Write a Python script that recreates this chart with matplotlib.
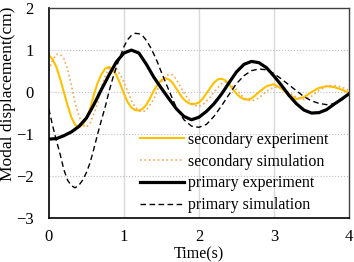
import matplotlib
matplotlib.use('Agg')
import matplotlib.pyplot as plt

plt.rcParams['font.family'] = ['Liberation Serif', 'DejaVu Serif']

# secondary experiment (orange solid)
t_sec_exp = [0.0, 0.05, 0.1, 0.15, 0.2, 0.25, 0.3, 0.35, 0.4, 0.45, 0.5, 0.55, 0.6, 0.65, 0.7,
             0.75, 0.8, 0.85, 0.9, 0.95, 1.0, 1.05, 1.1, 1.15, 1.2, 1.25, 1.3, 1.35, 1.4, 1.45,
             1.5, 1.55, 1.6, 1.65, 1.7, 1.75, 1.8, 1.85, 1.9, 1.95, 2.0, 2.05, 2.1, 2.15, 2.2,
             2.25, 2.3, 2.35, 2.4, 2.45, 2.5, 2.55, 2.6, 2.65, 2.7, 2.75, 2.8, 2.9, 3.0, 3.1,
             3.2, 3.3, 3.4, 3.5, 3.6, 3.7, 3.8, 3.9, 4.0]
y_sec_exp = [0.88, 0.78, 0.60, 0.32, 0.0, -0.32, -0.60, -0.78, -0.84, -0.78, -0.62, -0.40, -0.06,
             0.22, 0.42, 0.56, 0.60, 0.55, 0.40, 0.20, -0.04, -0.24, -0.37, -0.43, -0.44, -0.40,
             -0.30, -0.14, 0.04, 0.18, 0.29, 0.33, 0.30, 0.22, 0.08, -0.06, -0.18, -0.25, -0.29,
             -0.28, -0.25, -0.16, -0.03, 0.10, 0.22, 0.30, 0.32, 0.28, 0.19, 0.07, -0.04, -0.12,
             -0.17, -0.18, -0.15, -0.08, 0.0, 0.14, 0.19, 0.08, -0.06, -0.17, -0.12, 0.0, 0.10,
             0.14, 0.12, 0.06, -0.02]

# secondary simulation (orange dotted)
t_sec_sim = [0.0, 0.05, 0.1, 0.15, 0.2, 0.25, 0.3, 0.35, 0.4, 0.45, 0.5, 0.55, 0.6, 0.65, 0.7,
             0.75, 0.8, 0.85, 0.9, 0.95, 1.0, 1.05, 1.1, 1.15, 1.2, 1.25, 1.3, 1.35, 1.4, 1.45,
             1.5, 1.55, 1.6, 1.65, 1.7, 1.75, 1.8, 1.85, 1.9, 1.95, 2.0, 2.05, 2.1, 2.15, 2.2,
             2.3, 2.35, 2.4, 2.5, 2.6, 2.7, 2.8, 2.9, 3.0, 3.1, 3.2, 3.3, 3.4, 3.5, 3.6, 3.7,
             3.8, 3.9, 4.0]
y_sec_sim = [0.52, 0.76, 0.90, 0.90, 0.80, 0.54, 0.16, -0.26, -0.56, -0.78, -0.84, -0.74, -0.52,
             -0.26, 0.12, 0.38, 0.55, 0.60, 0.56, 0.42, 0.24, 0.02, -0.20, -0.36, -0.45, -0.47,
             -0.43, -0.30, -0.16, 0.06, 0.24, 0.37, 0.42, 0.41, 0.30, 0.14, -0.02, -0.15, -0.26,
             -0.32, -0.34, -0.30, -0.22, -0.12, 0.0, 0.20, 0.24, 0.22, 0.06, -0.14, -0.22, -0.14,
             0.02, 0.12, 0.10, -0.02, -0.12, -0.18, -0.10, 0.04, 0.14, 0.16, 0.12, 0.04]

# primary experiment (black thick)
t_pri_exp = [0.0, 0.1, 0.2, 0.3, 0.4, 0.5, 0.6, 0.7, 0.8, 0.9, 1.0, 1.1, 1.2, 1.3, 1.4, 1.5,
             1.6, 1.7, 1.8, 1.9, 2.0, 2.1, 2.2, 2.3, 2.4, 2.5, 2.6, 2.7, 2.8, 2.9, 3.0, 3.1,
             3.2, 3.3, 3.4, 3.5, 3.6, 3.7, 3.8, 3.9, 4.0]
y_pri_exp = [-1.12, -1.11, -1.04, -0.95, -0.82, -0.62, -0.30, 0.06, 0.40, 0.72, 0.93, 1.00,
             0.93, 0.66, 0.35, 0.09, -0.16, -0.40, -0.58, -0.66, -0.60, -0.46, -0.28, -0.05,
             0.22, 0.48, 0.66, 0.73, 0.70, 0.58, 0.38, 0.16, -0.08, -0.28, -0.43, -0.50, -0.49,
             -0.42, -0.29, -0.17, -0.04]

# primary simulation (black dashed)
t_pri_sim = [0.0, 0.05, 0.1, 0.15, 0.2, 0.25, 0.3, 0.35, 0.4, 0.45, 0.5, 0.55, 0.6, 0.65, 0.7,
             0.75, 0.8, 0.85, 0.9, 0.95, 1.0, 1.05, 1.1, 1.15, 1.2, 1.25, 1.3, 1.35, 1.4, 1.45,
             1.5, 1.55, 1.6, 1.7, 1.8, 1.9, 2.0, 2.1, 2.2, 2.3, 2.4, 2.5, 2.6, 2.7, 2.8, 2.9,
             3.0, 3.1, 3.2, 3.3, 3.4, 3.5, 3.6, 3.7, 3.8, 3.9, 4.0]
y_pri_sim = [-0.40, -0.80, -1.15, -1.48, -1.85, -2.10, -2.23, -2.28, -2.22, -2.10, -1.92, -1.68,
             -1.35, -1.00, -0.67, -0.36, 0.0, 0.32, 0.60, 0.84, 1.08, 1.25, 1.35, 1.40, 1.39,
             1.34, 1.23, 1.08, 0.90, 0.70, 0.47, 0.25, 0.04, -0.38, -0.66, -0.81, -0.84, -0.77,
             -0.58, -0.33, -0.06, 0.20, 0.39, 0.51, 0.55, 0.53, 0.44, 0.31, 0.17, 0.03, -0.11,
             -0.21, -0.27, -0.30, -0.28, -0.19, -0.04]

x_ticks = [0, 1, 2, 3, 4]
y_ticks = [-3, -2, -1, 0, 1, 2]

fig = plt.figure(figsize=(3.54, 2.62), dpi=100)
ax = fig.add_axes([0.138, 0.168, 0.848, 0.801])

ax.plot(t_sec_exp, y_sec_exp, color='#FFC000', lw=1.5, label='secondary experiment')
ax.plot(t_sec_sim, y_sec_sim, color='#F8A850', lw=1.2, ls=':', label='secondary simulation')
ax.plot(t_pri_exp, y_pri_exp, color='black', lw=2.3, label='primary experiment')
ax.plot(t_pri_sim, y_pri_sim, color='black', lw=1.0, ls=(0, (4, 2.5)), label='primary simulation')

ax.set_xlim(0, 4)
ax.set_ylim(-3, 2)
ax.set_xticks(x_ticks)
ax.set_yticks(y_ticks)

# grid: solid light vertical, dotted horizontal
for x in x_ticks[1:-1]:
    ax.axvline(x, color='#D9D9D9', lw=1.0, zorder=0)
for y in y_ticks[1:-1]:
    ax.axhline(y, color='#BFBFBF', lw=0.8, ls=':', zorder=0)

ax.tick_params(axis='x', length=0, labelsize=12, pad=8)
ax.tick_params(axis='y', length=0, labelsize=12, pad=11)
for s in ['left', 'bottom']:
    ax.spines[s].set_linewidth(1.2)
    ax.spines[s].set_color('black')
for s in ['top', 'right']:
    ax.spines[s].set_linewidth(1.0)
    ax.spines[s].set_color('#404040')

ax.set_xlabel('Time(s)', fontsize=11.5, labelpad=1)
ax.set_ylabel('Modal displacement(cm)', fontsize=12.5)
ax.yaxis.set_label_coords(-0.108, 0.59)

ax.legend(loc='lower right', bbox_to_anchor=(0.97, -0.03), frameon=False, fontsize=11.5,
          handlelength=2.8, handletextpad=0.25, labelspacing=0.36, borderaxespad=0.3)

fig.savefig('out.png', dpi=100)
